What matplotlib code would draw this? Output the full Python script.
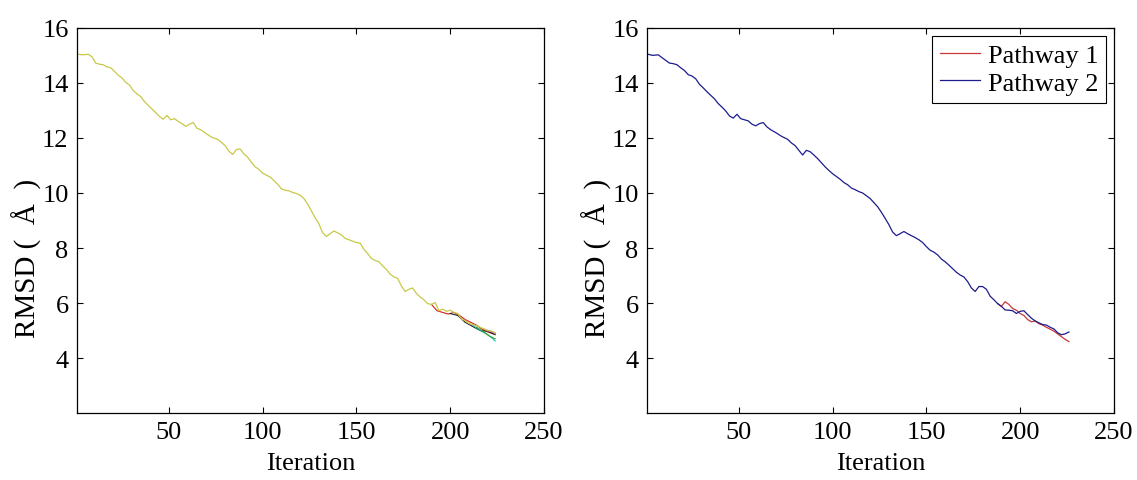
import matplotlib
matplotlib.use('Agg')

import matplotlib.pyplot as plt

# iterations / RMSD (main pathway, yellow)
iter_left = [1, 4, 7, 9, 11, 13, 15, 17, 19, 21, 23, 25, 27, 29, 31, 33, 35, 37, 39, 41,
             43, 45, 47, 49, 51, 53, 55, 57, 59, 61, 63, 65, 67, 70, 73, 76, 78, 80, 82, 84,
             86, 88, 90, 92, 94, 96, 98, 100, 102, 104, 106, 108, 110, 112, 114, 116, 118, 120, 122, 124,
             126, 128, 130, 132, 134, 136, 138, 140, 142, 144, 146, 148, 150, 152, 154, 156, 158, 160, 162, 164,
             166, 168, 170, 172, 174, 176, 178, 180, 182, 184, 186, 188, 190, 192, 194, 196, 198, 200, 202, 204,
             206, 208, 210, 212, 214, 216, 218, 220, 222, 224]
rmsd_left = [15.05, 15.02, 15.04, 14.95, 14.72, 14.68, 14.66, 14.58, 14.55, 14.42, 14.28, 14.18, 14.02, 13.92, 13.72, 13.60, 13.50, 13.32, 13.18, 13.05,
             12.92, 12.78, 12.68, 12.82, 12.66, 12.70, 12.60, 12.52, 12.42, 12.50, 12.56, 12.35, 12.30, 12.15, 12.02, 11.95, 11.84, 11.72, 11.52, 11.40,
             11.58, 11.60, 11.42, 11.30, 11.12, 10.95, 10.86, 10.72, 10.65, 10.58, 10.45, 10.32, 10.15, 10.10, 10.08, 10.02, 9.98, 9.92, 9.80, 9.60,
             9.35, 9.10, 8.88, 8.55, 8.42, 8.52, 8.62, 8.55, 8.48, 8.35, 8.30, 8.25, 8.20, 8.18, 7.95, 7.80, 7.62, 7.55, 7.50, 7.35,
             7.22, 7.05, 6.95, 6.90, 6.62, 6.42, 6.50, 6.55, 6.35, 6.22, 6.12, 5.98, 5.95, 6.02, 5.72, 5.78, 5.70, 5.74, 5.66, 5.62,
             5.42, 5.36, 5.26, 5.22, 5.18, 5.12, 5.06, 5.00, 4.98, 4.92]

# short tails of the other pathways visible at the end of the left panel
tail_red_x = [190, 193, 196, 199, 202, 205, 208, 211, 214, 217, 220, 223]
tail_red_y = [5.95, 5.72, 5.66, 5.60, 5.66, 5.55, 5.40, 5.30, 5.20, 5.05, 4.95, 4.88]
tail_black_x = [200, 204, 208, 212, 216, 220, 224]
tail_black_y = [5.62, 5.55, 5.30, 5.15, 5.00, 4.98, 4.85]
tail_cyan_x = [212, 216, 220, 222, 224]
tail_cyan_y = [5.20, 5.00, 4.85, 4.75, 4.62]
tail_green_x = [214, 218, 221, 224]
tail_green_y = [5.12, 4.95, 4.80, 4.70]
tail_mag_x = [218, 221, 224]
tail_mag_y = [5.05, 4.98, 4.90]

# right panel: pathway 2 (blue) and pathway 1 (red)
iter_p2 = [1, 4, 7, 9, 11, 13, 15, 17, 19, 21, 23, 25, 27, 29, 31, 33, 35, 37, 39, 41,
           43, 45, 47, 49, 51, 53, 55, 57, 59, 61, 63, 65, 67, 70, 73, 76, 78, 80, 82, 84,
           86, 88, 90, 92, 94, 96, 98, 100, 102, 104, 106, 108, 110, 112, 114, 116, 118, 120, 122, 124,
           126, 128, 130, 132, 134, 136, 138, 140, 142, 144, 146, 148, 150, 152, 154, 156, 158, 160, 162, 164,
           166, 168, 170, 172, 174, 176, 178, 180, 182, 184, 186, 188, 190, 192, 194, 196, 198, 200, 202, 204,
           206, 208, 210, 212, 214, 216, 218, 220, 222, 224, 226]
rmsd_p2 = [15.05, 15.00, 15.02, 14.92, 14.82, 14.72, 14.70, 14.66, 14.55, 14.45, 14.30, 14.25, 14.15, 13.95, 13.82, 13.68, 13.55, 13.42, 13.25, 13.12,
           12.98, 12.80, 12.72, 12.86, 12.70, 12.66, 12.62, 12.50, 12.44, 12.52, 12.56, 12.40, 12.30, 12.18, 12.05, 11.95, 11.82, 11.72, 11.55, 11.38,
           11.55, 11.50, 11.38, 11.25, 11.10, 10.95, 10.82, 10.70, 10.60, 10.50, 10.38, 10.30, 10.18, 10.12, 10.05, 10.00, 9.90, 9.80, 9.65, 9.50,
           9.30, 9.08, 8.85, 8.58, 8.45, 8.52, 8.60, 8.52, 8.45, 8.38, 8.30, 8.20, 8.05, 7.92, 7.85, 7.75, 7.60, 7.50, 7.38, 7.25,
           7.12, 7.02, 6.95, 6.78, 6.55, 6.42, 6.60, 6.60, 6.50, 6.25, 6.12, 5.98, 5.88, 5.75, 5.74, 5.72, 5.62, 5.70, 5.72, 5.58,
           5.45, 5.35, 5.28, 5.22, 5.20, 5.12, 5.06, 4.92, 4.85, 4.88, 4.95]
iter_p1 = [188, 190, 192, 194, 196, 198, 200, 202, 204, 206, 208, 210, 212, 214, 216, 218, 220, 222, 224, 226]
rmsd_p1 = [5.98, 5.88, 6.05, 5.95, 5.80, 5.74, 5.62, 5.55, 5.40, 5.32, 5.35, 5.25, 5.20, 5.12, 5.05, 4.98, 4.88, 4.78, 4.68, 4.60]

plt.rcParams['font.family'] = ['Liberation Serif', 'DejaVu Serif']
plt.rcParams['font.size'] = 19

fig = plt.figure(figsize=(11.37, 4.81), dpi=100)
ax1 = fig.add_axes([0.0677, 0.139, 0.4107, 0.801])
ax2 = fig.add_axes([0.569, 0.139, 0.4107, 0.801])

ax1.plot(tail_red_x, tail_red_y, color='#d02020', lw=0.8)
ax1.plot(tail_black_x, tail_black_y, color='#202020', lw=0.8)
ax1.plot(tail_cyan_x, tail_cyan_y, color='#20c0c0', lw=0.8)
ax1.plot(tail_green_x, tail_green_y, color='#30a030', lw=0.8)
ax1.plot(tail_mag_x, tail_mag_y, color='#c040c0', lw=0.8)
ax1.plot(iter_left, rmsd_left, color='#c8c848', lw=0.9)

ax2.plot(iter_p1, rmsd_p1, color='#c83838', lw=0.9, label='Pathway 1')
ax2.plot(iter_p2, rmsd_p2, color='#1c1c8c', lw=0.9, label='Pathway 2')

for ax in (ax1, ax2):
    ax.set_xlim(1, 250)
    ax.set_ylim(2, 16)
    ax.set_xticks([50, 100, 150, 200, 250])
    ax.set_yticks([4, 6, 8, 10, 12, 14, 16])
    ax.tick_params(direction='in', top=True, right=True, length=4, width=0.8, pad=6)
    for s in ax.spines.values():
        s.set_linewidth(0.9)
    ax.set_xlabel('Iteration', labelpad=6)
    ax.set_ylabel('RMSD (  Å  )', fontsize=21)
    ax.yaxis.set_label_coords(-0.075, 0.405)

leg = ax2.legend(loc='upper right', fancybox=False, edgecolor='black', framealpha=1,
                 handlelength=1.5, borderaxespad=0.3, borderpad=0.3,
                 labelspacing=0.15, handletextpad=0.3)
leg.get_frame().set_linewidth(0.8)

plt.savefig('out.png', dpi=100)
